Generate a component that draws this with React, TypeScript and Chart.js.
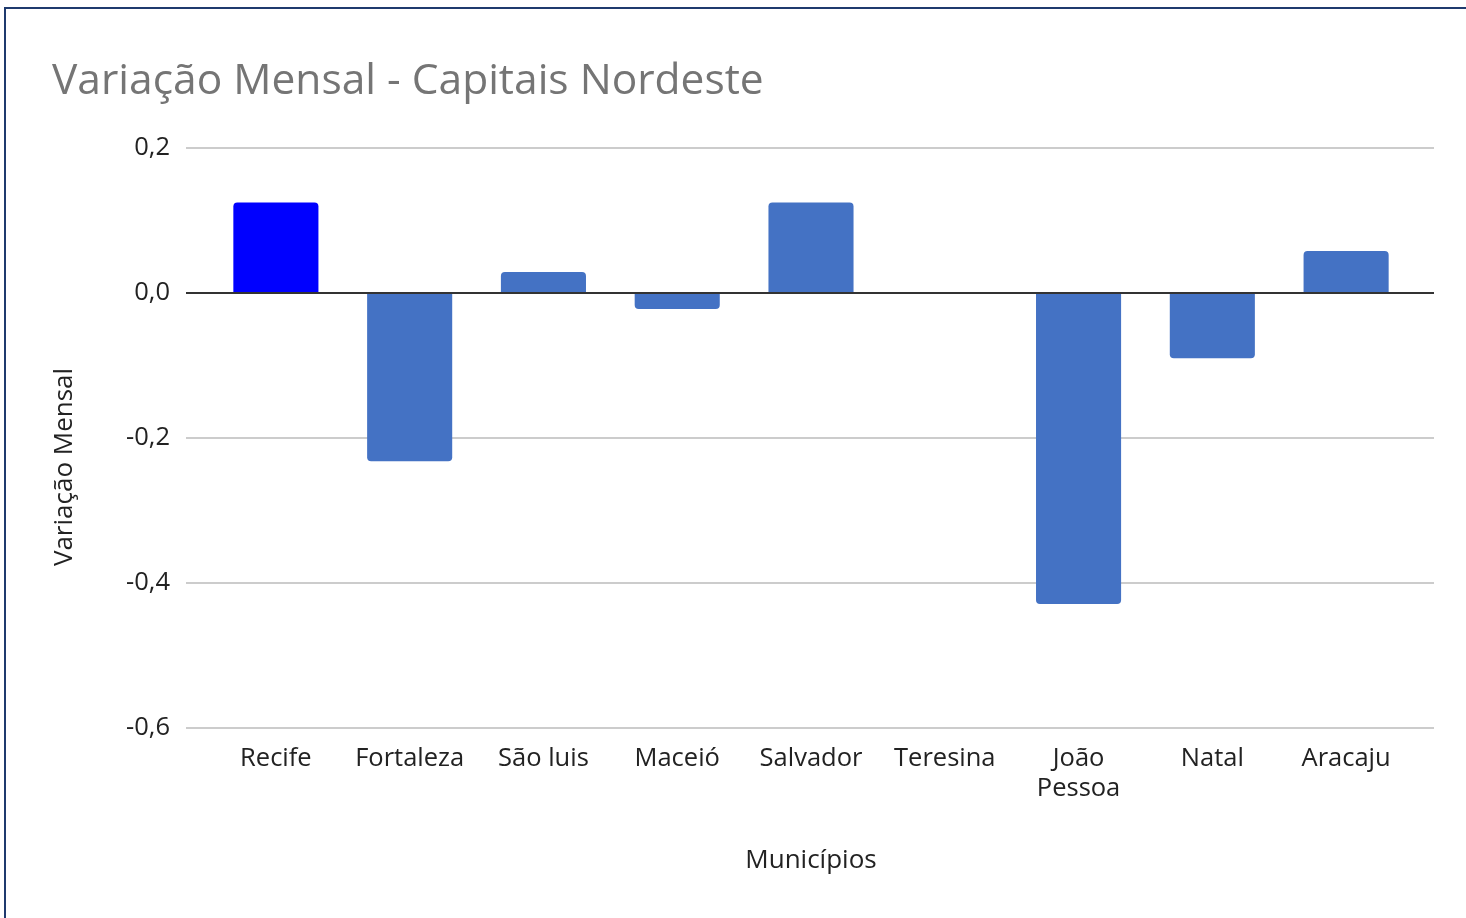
import React, { useEffect, useRef } from 'react';
import { Chart, registerables } from 'chart.js';
Chart.register(...registerables);

const categories: (string | string[])[] = ['Recife', 'Fortaleza', 'São luis', 'Maceió', 'Salvador', 'Teresina', ['João', 'Pessoa'], 'Natal', 'Aracaju'];
const variacao: number[] = [0.125, -0.232, 0.029, -0.022, 0.125, 0, -0.429, -0.09, 0.058];
const barColors: string[] = ['#0000FF', '#4472C4', '#4472C4', '#4472C4', '#4472C4', '#4472C4', '#4472C4', '#4472C4', '#4472C4'];
const yTicks: number[] = [0.2, 0, -0.2, -0.4, -0.6];
const yTitle = 'Variação Mensal';

const FONT = "'Open Sans', sans-serif";

const gridPlugin = {
  id: 'extGrid',
  beforeDatasetsDraw(chart: any) {
    const { ctx, chartArea, scales } = chart;
    const y = scales.y;
    ctx.save();
    ctx.strokeStyle = '#cccccc';
    ctx.lineWidth = 2;
    yTicks.forEach((v) => {
      if (v === 0) return;
      const py = Math.round(y.getPixelForValue(v));
      ctx.beginPath();
      ctx.moveTo(chartArea.left - 23, py);
      ctx.lineTo(chartArea.right + 21, py);
      ctx.stroke();
    });
    ctx.restore();
  },
  afterDatasetsDraw(chart: any) {
    const { ctx, chartArea, scales } = chart;
    const py = Math.round(scales.y.getPixelForValue(0));
    ctx.save();
    ctx.strokeStyle = '#333333';
    ctx.lineWidth = 2;
    ctx.beginPath();
    ctx.moveTo(chartArea.left - 23, py);
    ctx.lineTo(chartArea.right + 21, py);
    ctx.stroke();
    ctx.restore();
  },
  afterDraw(chart: any) {
    const { ctx } = chart;
    ctx.save();
    ctx.translate(65, 467);
    ctx.rotate(-Math.PI / 2);
    ctx.fillStyle = '#222222';
    ctx.font = `26px ${FONT}`;
    ctx.textAlign = 'center';
    ctx.textBaseline = 'middle';
    ctx.fillText(yTitle, 0, 0);
    ctx.restore();
  },
};

export default function App() {
  const ref = useRef<HTMLCanvasElement | null>(null);
  useEffect(() => {
    if (!ref.current) return;
    const chart = new Chart(ref.current, {
      type: 'bar',
      data: {
        labels: categories,
        datasets: [
          {
            label: 'Variação Mensal',
            data: variacao,
            backgroundColor: barColors,
            borderRadius: 4,
            borderSkipped: 'start',
            categoryPercentage: 1,
            barPercentage: 0.636,
          },
        ],
      },
      options: {
        animation: false,
        responsive: false,
        maintainAspectRatio: false,
        layout: { padding: { left: 52, right: 53, top: 0, bottom: 42 } },
        plugins: {
          legend: { display: false },
          tooltip: { enabled: false },
          title: {
            display: true,
            text: 'Variação Mensal - Capitais Nordeste',
            align: 'start',
            color: '#757575',
            font: { family: FONT, size: 42.5, weight: 'normal' },
            padding: { top: 56, bottom: 41 },
          },
        },
        scales: {
          x: {
            grid: { display: false, drawTicks: false },
            border: { display: false },
            ticks: {
              color: '#222222',
              font: { family: FONT, size: 25.5 },
              padding: 15,
              maxRotation: 0,
              autoSkip: false,
            },
            title: {
              display: true,
              text: 'Municípios',
              color: '#222222',
              font: { family: FONT, size: 26 },
              padding: { top: 0, bottom: 0 },
            },
            afterFit(scale: any) {
              scale.height = 148;
            },
          },
          y: {
            min: -0.6,
            max: 0.2,
            afterBuildTicks(scale: any) {
              scale.ticks = yTicks.map((v) => ({ value: v }));
            },
            grid: { display: false, drawTicks: false },
            border: { display: false },
            ticks: {
              color: '#222222',
              font: { family: FONT, size: 25.5 },
              padding: 39,
              callback: (v: any) => Number(v).toFixed(1).replace('.', ','),
            },
            title: { display: false },
            afterFit(scale: any) {
              scale.width = 157;
            },
          },
        },
      },
      plugins: [gridPlugin],
    });
    return () => chart.destroy();
  }, []);
  return (
    <div style={{ position: 'fixed', left: 0, top: 0, width: 1466, height: 918, background: '#ffffff', overflow: 'hidden' }}>
      <div style={{ position: 'absolute', left: 4, top: 7, width: 1500, height: 1000, borderLeft: '2px solid #1f3a6e', borderTop: '2px solid #1f3a6e', boxSizing: 'border-box' }} />
      <canvas ref={ref} width={1466} height={918} style={{ position: 'absolute', left: 0, top: 0, width: 1466, height: 918 }} />
    </div>
  );
}
